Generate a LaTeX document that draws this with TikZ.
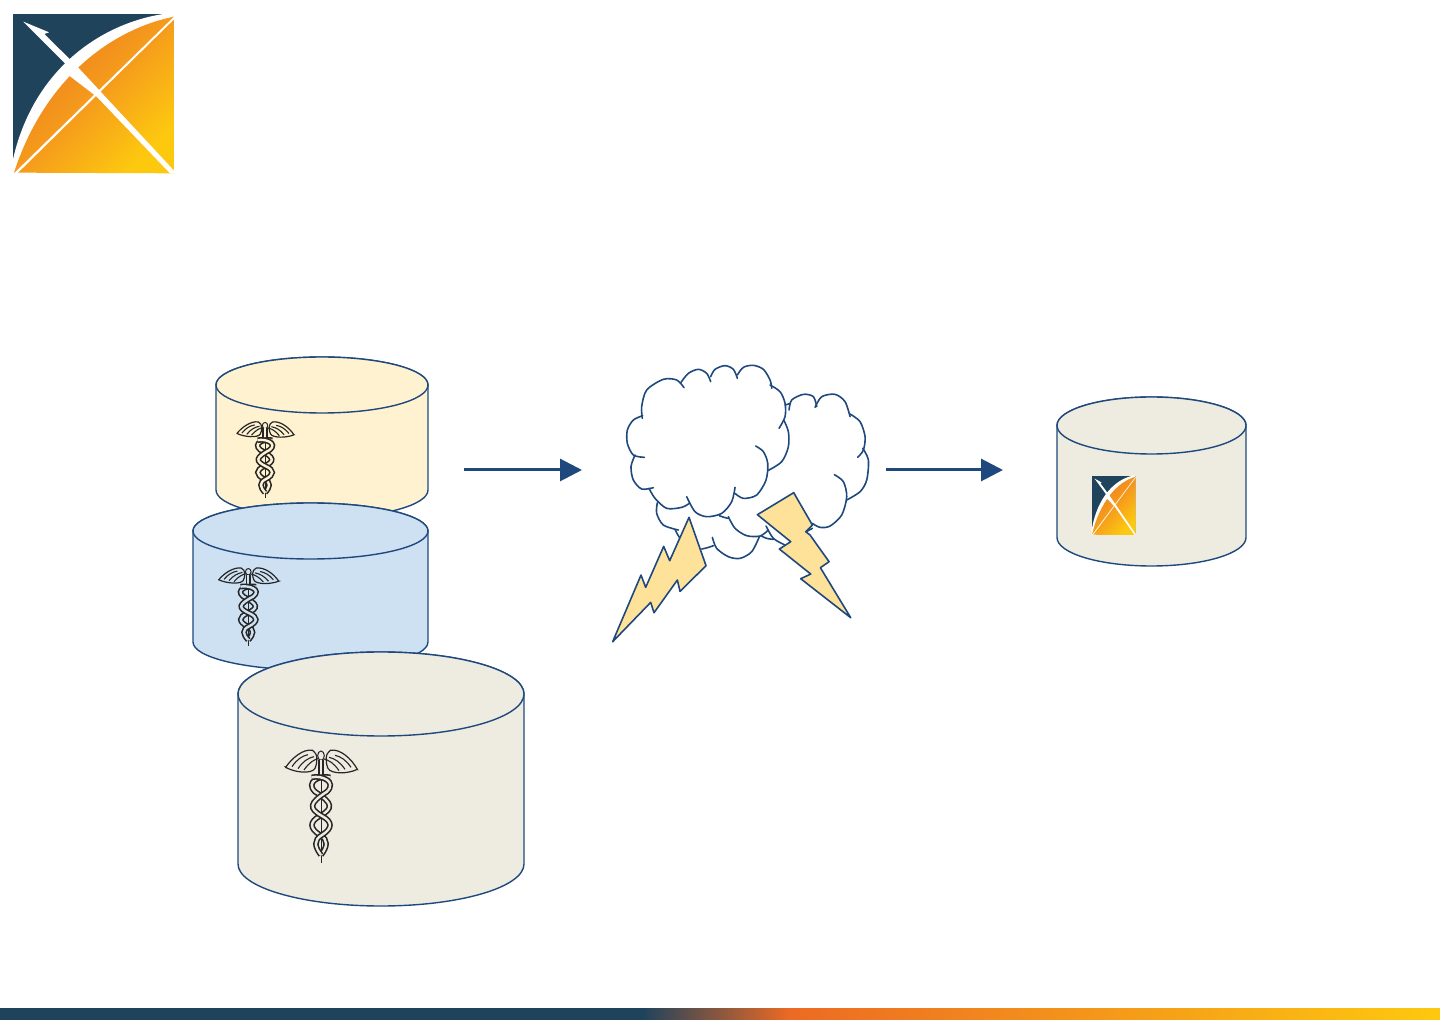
\documentclass[tikz,border=0pt]{standalone}
\usepackage{xcolor}
\usepackage{tikz}
\usetikzlibrary{arrows.meta,positioning}
\definecolor{odnavy}{RGB}{32,67,92}
\definecolor{odedge}{RGB}{31,73,125}
\definecolor{odcream}{RGB}{255,242,208}
\definecolor{odblue}{RGB}{206,225,243}
\definecolor{odgrey}{RGB}{238,236,225}
\definecolor{odbolt}{RGB}{254,226,154}
\definecolor{odorange}{RGB}{236,106,36}
\definecolor{odamber}{RGB}{236,124,32}
\definecolor{odmid}{RGB}{245,155,28}
\definecolor{odyellow}{RGB}{253,201,15}
\newcommand{\cloudarc}[1]{\draw[cloudline] plot[smooth] coordinates {#1};}
% fill, centre x, x radius, y radius, top y, bottom y
\newcommand{\dbcan}[6]{
  \draw[dbedge, fill=#1] (#2-#3,#5) -- (#2-#3,#6) arc (180:0:#3 and #4) -- (#2+#3,#5) arc (0:-180:#3 and #4) -- cycle;
  \draw[dbedge, fill=#1] (#2,#5) ellipse (#3 and #4);
}
\tikzset{
  dbedge/.style={draw=odedge, line width=0.7pt},
  cloudline/.style={draw=odedge, line width=0.8pt, line cap=round},
  bolt/.style={draw=odedge, fill=odbolt, line width=0.8pt, line join=round},
  arr/.style={-{Triangle[length=11pt,width=11pt]}, draw=odedge, line width=1.5pt},
  logomark/.pic={
    \fill[odnavy] (38,42) rectangle (522,520);
    \fill[white] (490,42) .. controls (298,72) and (98,212) .. (38,482) -- (38,520) -- (522,520) -- (522,42) -- cycle;
    \path[left color=odamber, right color=odyellow, middle color=odmid, shading angle=45]
      (522,50) .. controls (318,92) and (128,252) .. (42,518) -- (522,520) -- cycle;
    \fill[white] (70,65) -- (147,97) -- (133,102) -- (235,203) -- (522,512) -- (522,520) -- (510,520)
      -- (290,290) -- (205,225) -- (195,190) -- cycle;
    \fill[white] (522,50) -- (522,58) -- (52,520) -- (44,518) -- cycle;
  },
  caduceus/.pic={
    \draw[black!85, fill=#1, line width=0.6pt] (47,82) .. controls (65,55) and (100,25) .. (128,31) .. controls (145,40) and (142,70) .. (135,85)
      .. controls (125,103) and (75,98) .. cycle;
    \draw[black!85, fill=#1, line width=0.6pt] (262,88) .. controls (244,55) and (209,25) .. (181,31) .. controls (164,40) and (167,70) .. (174,85)
      .. controls (184,103) and (234,102) .. cycle;
    \foreach \wingx/\wingy in {66/80,84/86,102/90} {
      \draw[black!85, line width=0.55pt] (\wingx,\wingy) .. controls (\wingx+15,\wingy-22) and (\wingx+30,\wingy-32) .. (\wingx+48,\wingy-36);
      \draw[black!85, line width=0.55pt] (309-\wingx,\wingy+2) .. controls (294-\wingx,\wingy-20) and (279-\wingx,\wingy-30) .. (261-\wingx,\wingy-34);
    }
    \draw[black!85, line width=0.5pt] (153,40) -- (153,370);
    \draw[black!85, fill=#1, line width=0.5pt] (153,47) ellipse (10 and 14);
    \draw[black!85, line width=0.9pt, double=#1, double distance=0.8pt] (153,60) -- (153,120);
    \draw[black!85, line width=0.8pt, double=#1, double distance=1.2pt]
      (181,112) .. controls (150,105) and (105,125) .. (135,155) .. controls (190,190) and (190,205) .. (150,228)
      .. controls (118,245) and (118,265) .. (150,285) .. controls (176,300) and (172,320) .. (153,345);
    \draw[black!85, line width=0.8pt, double=#1, double distance=1.2pt]
      (125,112) .. controls (156,105) and (201,125) .. (171,155) .. controls (116,190) and (116,205) .. (156,228)
      .. controls (188,245) and (188,265) .. (156,285) .. controls (130,300) and (134,320) .. (153,345);
  }
}
\begin{document}
\begin{tikzpicture}[x=0.5pt,y=-0.5pt]
  \useasboundingbox (0,0) rectangle (1440,1020);
  \pic (logomain) at (0,0) [xscale=1/3,yscale=1/3] {logomark};
  \dbcan{odcream}{322}{106}{28}{385}{490}
  \pic (caduone) at (224.5,415) [xscale=0.265,yscale=0.225] {caduceus=odcream};
  \dbcan{odblue}{310.5}{117.5}{28}{531}{642}
  \pic (caducetwo) at (205.6,561) [xscale=0.279,yscale=0.229] {caduceus=odblue};
  \dbcan{odgrey}{381}{143}{42}{694}{864}
  \pic (caduthree) at (270,740) [xscale=1/3,yscale=1/3] {caduceus=odgrey};
  \dbcan{odgrey}{1151.5}{94.5}{28.5}{425.5}{537.5}
  \pic (logosmall) at (1088.2,470.5) [xscale=0.0909,yscale=0.124] {logomark};
  % storm
  \begin{scope}[shift={(600,350)},x=0.1667pt,y=-0.1667pt]
    \cloudarc{(127,205) (125,170) (140,120) (190,88) (230,90) (252,113)}
    \cloudarc{(243,97) (265,70) (295,58) (320,70) (332,95)}
    \cloudarc{(332,80) (345,58) (375,47) (400,58) (412,85)}
    \cloudarc{(412,75) (430,52) (460,46) (490,58) (510,90) (515,115)}
    \cloudarc{(510,105) (540,125) (555,160) (555,200) (537,235)}
    \cloudarc{(552,212) (565,245) (565,290) (545,335) (503,362)}
    \cloudarc{(467,288) (490,305) (503,340) (498,390) (470,435) (430,445) (405,430)}
    \cloudarc{(405,412) (395,455) (365,490) (320,500) (285,485) (260,440)}
    \cloudarc{(268,460) (245,472) (200,475) (165,445) (147,415)}
    \cloudarc{(160,413) (125,417) (100,390) (93,350) (105,315)}
    \cloudarc{(133,322) (100,315) (82,280) (82,240) (100,210) (128,197)}
    \cloudarc{(567,180) (575,150) (610,133) (640,140) (650,170)}
    \cloudarc{(645,172) (665,140) (705,133) (735,155) (750,200)}
    \cloudarc{(750,192) (780,215) (795,260) (790,300) (773,322)}
    \cloudarc{(788,295) (805,330) (800,390) (780,425) (740,450)}
    \cloudarc{(703,374) (730,395) (740,440) (725,495) (690,528) (660,532) (637,520)}
    \cloudarc{(172,458) (170,490) (190,525) (235,540)}
    \cloudarc{(225,538) (232,552) (240,565)}
    \cloudarc{(305,597) (322,593) (340,587)}
    \cloudarc{(337,562) (350,595) (385,620) (420,625) (455,605) (478,560)}
    \cloudarc{(358,497) (372,502) (385,505)}
    \cloudarc{(385,500) (405,535) (440,557) (480,558) (505,540)}
    \cloudarc{(482,557) (500,565) (520,568)}
    \cloudarc{(498,528) (520,565) (555,585)}
    \cloudarc{(555,165) (562,163) (570,160)}
    \cloudarc{(615,547) (626,541) (637,535)}
    \draw[bolt] (267,502) -- (318,647) -- (240,724) -- (232,690) -- (162,788) -- (152,757) -- (38,875)
      -- (123,675) -- (137,712) -- (191,589) -- (209,632) -- cycle;
    \draw[bolt] (581,428) -- (637,525) -- (617,545) -- (630,555) -- (687,635) -- (661,653) -- (752,803)
      -- (602,686) -- (632,672) -- (538,597) -- (572,575) -- (472,494) -- cycle;
  \end{scope}
  % arrows
  \coordinate (arrinA) at (464,470);
  \coordinate (arrinB) at (582,470);
  \coordinate (arroutA) at (886,470);
  \coordinate (arroutB) at (1003,470);
  \draw[arr] (arrinA) -- (arrinB);
  \draw[arr] (arroutA) -- (arroutB);
  % footer bar
  \fill[odnavy] (0,1008) rectangle (644,1020);
  \path[left color=odnavy, right color=odorange] (643,1008) rectangle (790,1020);
  \path[left color=odorange, right color=odyellow] (789,1008) rectangle (1440,1020);
\end{tikzpicture}
\end{document}
